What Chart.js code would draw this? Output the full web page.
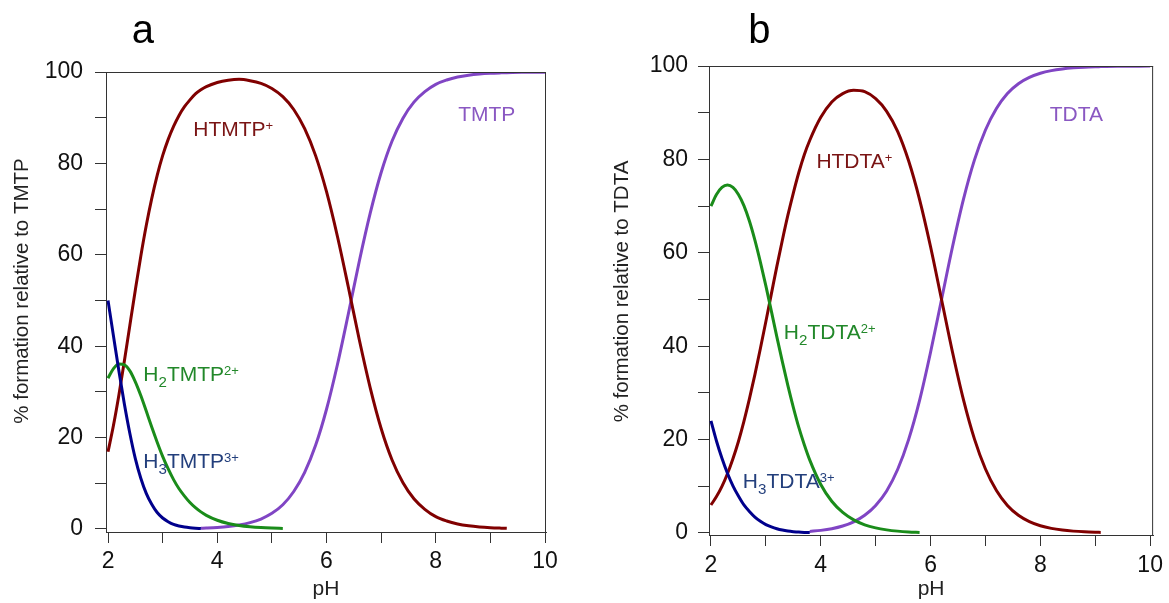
<!DOCTYPE html>
<html><head><meta charset="utf-8">
<script src="https://cdn.jsdelivr.net/npm/chart.js@4.4.1/dist/chart.umd.min.js"></script>
<style>
html,body{margin:0;padding:0;background:#fff;width:1169px;height:603px;overflow:hidden}
canvas{position:absolute;top:0}
#ca{left:0}
#cb{left:585px}
</style></head><body>
<canvas id="ca" width="585" height="603"></canvas>
<canvas id="cb" width="584" height="603"></canvas>
<script>
// ---------- Panel a data (pH vs % formation relative to TMTP) ----------
const pH_a = [2.0,2.1,2.2,2.3,2.4,2.5,2.6,2.7,2.8,2.9,3.0,3.1,3.2,3.3,3.4,3.5,3.6,3.7,3.8,
  4.0,4.2,4.4,4.6,4.8,5.0,5.2,5.4,5.6,5.8,6.0,6.2,6.4,6.6,6.8,7.0,7.2,7.4,7.6,7.8,8.0,
  8.2,8.4,8.6,8.8,9.0,9.2,9.3,9.4,9.6,9.8,10.0];
const H3TMTP = [50.0,42.2,34.5,27.3,20.9,15.4,11.1,7.8,5.4,3.6,2.4,1.6,1.0,0.67,0.43,0.28,0.18,0.11,null,
  null,null,null,null,null,null,null,null,null,null,null,null,null,null,null,null,null,null,null,null,null,
  null,null,null,null,null,null,null,null,null,null,null];
const H2TMTP = [33.0,35.1,36.1,35.9,34.6,32.2,29.2,25.8,22.3,19.0,15.9,13.2,10.8,8.8,7.2,5.8,4.66,3.74,2.99,
  1.91,1.21,0.76,0.48,0.30,0.19,0.12,null,null,null,null,null,null,null,null,null,null,null,null,null,null,
  null,null,null,null,null,null,null,null,null,null,null];
const HTMTP = [16.9,22.7,29.4,36.8,44.6,52.3,59.7,66.4,72.3,77.4,81.7,85.2,88.1,90.5,92.4,93.9,95.2,96.1,96.8,
  97.7,98.2,98.4,98.1,97.5,96.4,94.6,91.8,87.6,81.7,73.8,64.0,52.9,41.4,30.9,22.0,15.1,10.1,6.6,4.3,2.7,
  1.75,1.11,0.70,0.44,0.28,0.18,0.14,null,null,null,null];
const TMTP = [null,null,null,null,null,null,null,null,null,null,null,null,null,null,null,null,null,0.17,0.22,
  0.35,0.55,0.88,1.39,2.18,3.42,5.3,8.2,12.4,18.3,26.2,36.0,47.1,58.6,69.1,78.0,84.9,89.9,93.4,95.7,97.3,
  98.25,98.9,99.3,99.56,99.72,99.82,99.86,99.89,99.93,99.96,99.97];

// ---------- Panel b data (pH vs % formation relative to TDTA) ----------
const pH_b = [2.0,2.1,2.2,2.3,2.4,2.5,2.6,2.7,2.8,2.9,3.0,3.1,3.2,3.3,3.4,3.5,3.6,3.7,3.8,
  4.0,4.2,4.4,4.6,4.8,5.0,5.2,5.4,5.6,5.8,6.0,6.2,6.4,6.6,6.8,7.0,7.2,7.4,7.6,7.8,8.0,
  8.2,8.4,8.6,8.8,9.0,9.1,9.2,9.4,9.6,9.8,10.0];
const H3TDTA = [24.0,19.7,16.0,12.8,10.1,7.9,6.0,4.6,3.4,2.5,1.8,1.3,0.91,0.63,0.43,0.29,0.19,0.13,0.09,
  null,null,null,null,null,null,null,null,null,null,null,null,null,null,null,null,null,null,null,null,null,
  null,null,null,null,null,null,null,null,null,null,null];
const H2TDTA = [70.0,72.5,74.0,74.5,74.0,72.5,70.1,66.8,62.7,58.0,52.9,47.5,42.0,36.7,31.6,26.9,22.6,18.9,15.6,
  10.4,6.8,4.4,2.8,1.75,1.09,0.67,0.40,0.23,0.13,null,null,null,null,null,null,null,null,null,null,null,
  null,null,null,null,null,null,null,null,null,null,null];
const HTDTA = [6.0,7.8,10.0,12.7,15.9,19.6,23.9,28.7,33.9,39.5,45.3,51.2,57.1,62.7,68.0,72.8,77.2,81.0,84.1,
  89.0,92.3,94.1,94.8,94.5,93.0,90.3,86.0,79.7,71.4,61.3,50.0,38.7,28.5,20.1,13.7,9.1,5.9,3.8,2.45,1.56,
  0.99,0.63,0.40,0.25,0.16,0.13,null,null,null,null,null];
const TDTA = [null,null,null,null,null,null,null,null,null,null,null,null,null,null,null,null,null,null,0.33,
  0.56,0.92,1.5,2.4,3.8,5.9,9.0,13.6,20.0,28.4,38.7,50.0,61.3,71.5,79.9,86.3,90.9,94.1,96.2,97.55,98.44,
  99.01,99.37,99.6,99.75,99.84,99.87,99.9,99.94,99.96,99.97,99.98];

// ---------- ticks ----------
const xTickValues = [2,3,4,5,6,7,8,9,10];
const yTickValues = [0,10,20,30,40,50,60,70,80,90,100];

// ---------- styles ----------
const FONT = 'Arial, "Liberation Sans", Helvetica, sans-serif';
const C_RED = '#800000', C_GREEN = '#1a8c1a', C_BLUE = '#00008c', C_PURPLE = '#8045c4';
const L_RED = '#7a1414', L_GREEN = '#22882a', L_BLUE = '#233f7c', L_PURPLE = '#8a58c2';

const decoPlugin = {
  id: 'deco',
  afterDraw(chart, args, opts) {
    const {ctx, chartArea: ca, scales: {x, y}} = chart;
    ctx.save();
    ctx.strokeStyle = '#333'; ctx.lineWidth = 1;
    ctx.beginPath();
    ctx.moveTo(ca.left - 11, ca.top + 0.5); ctx.lineTo(ca.right, ca.top + 0.5);
    ctx.moveTo(ca.right - 0.5, ca.top); ctx.lineTo(ca.right - 0.5, ca.bottom);
    ctx.stroke();
    // y-axis title (rotated)
    ctx.save();
    ctx.translate(opts.yTitleX, (ca.top + ca.bottom) / 2 - opts.yTitleLift);
    ctx.rotate(-Math.PI / 2);
    ctx.font = opts.yTitleSize + 'px ' + FONT;
    ctx.fillStyle = '#222';
    ctx.textAlign = 'center'; ctx.textBaseline = 'middle';
    ctx.fillText(opts.yTitle, 0, 0);
    ctx.restore();
    // panel letter
    ctx.fillStyle = '#000';
    ctx.font = opts.letterSize + 'px ' + FONT;
    ctx.textAlign = 'center'; ctx.textBaseline = 'alphabetic';
    ctx.fillText(opts.letter, x.getPixelForValue(opts.letterX), ca.top - opts.letterRise);
    // species labels
    ctx.textAlign = 'left';
    const S = opts.size;
    opts.items.forEach(it => {
      let px = x.getPixelForValue(it.x);
      const py = y.getPixelForValue(it.y);
      it.parts.forEach(([t, k]) => {
        const s = k === 'n' ? S : (k === 'sub' ? S * 0.72 : S * 0.62);
        const dy = k === 'sub' ? S * 0.28 : (k === 'sup' ? -S * 0.3 : 0);
        ctx.font = s + 'px ' + FONT;
        ctx.fillStyle = it.color;
        ctx.fillText(t, px, py + dy);
        px += ctx.measureText(t).width;
      });
    });
    ctx.restore();
  }
};

function makeChart(id, cfg) {
  return new Chart(document.getElementById(id), {
    type: 'line',
    data: {
      datasets: cfg.series.map(s => ({
        label: s.name,
        data: cfg.ph.map((p, i) => ({x: p, y: s.values[i]})),
        borderColor: s.color, borderWidth: 3, pointRadius: 0, fill: false,
        cubicInterpolationMode: 'monotone', spanGaps: false
      }))
    },
    options: {
      responsive: false, animation: false, devicePixelRatio: 1,
      layout: {padding: {left: 0, right: cfg.padRight, top: cfg.padTop, bottom: 0}},
      plugins: {legend: {display: false}, tooltip: {enabled: false}, deco: cfg.deco},
      scales: {
        x: {
          type: 'linear', min: cfg.xmin, max: cfg.xmax,
          afterBuildTicks: sc => { sc.ticks = xTickValues.map(v => ({value: v})); },
          afterFit: sc => { sc.height = cfg.xHeight; },
          ticks: {autoSkip: false, maxRotation: 0, padding: cfg.xTickPad, color: '#111',
            font: {size: 23, family: FONT}, callback: v => (v % 2 === 0 ? String(v) : '')},
          grid: {drawOnChartArea: false, drawTicks: true, tickLength: 11, color: '#333', lineWidth: 1},
          border: {display: true, color: '#333', width: 1},
          title: {display: true, text: 'pH', color: '#222', font: {size: 21, family: FONT},
            padding: {top: 0, bottom: cfg.xTitlePad}}
        },
        y: {
          type: 'linear', min: cfg.ymin, max: 100,
          afterBuildTicks: sc => { sc.ticks = yTickValues.map(v => ({value: v})); },
          afterFit: sc => { sc.width = cfg.yWidth; },
          ticks: {autoSkip: false, padding: cfg.yTickPad, color: '#111',
            font: {size: 23, family: FONT}, callback: v => (v % 20 === 0 ? String(v) : '')},
          grid: {drawOnChartArea: false, drawTicks: true, tickLength: 11, color: '#333', lineWidth: 1},
          border: {display: true, color: '#333', width: 1},
          title: {display: false}
        }
      }
    },
    plugins: [decoPlugin]
  });
}

makeChart('ca', {
  ph: pH_a,
  series: [
    {name: 'H3TMTP3+', values: H3TMTP, color: C_BLUE},
    {name: 'H2TMTP2+', values: H2TMTP, color: C_GREEN},
    {name: 'HTMTP+', values: HTMTP, color: C_RED},
    {name: 'TMTP', values: TMTP, color: C_PURPLE}
  ],
  padRight: 39, padTop: 72, xHeight: 71, yWidth: 106,
  xmin: 1.963, xmax: 10.018, ymin: -0.66,
  xTickPad: 5, yTickPad: 12, xTitlePad: 1,
  deco: {
    yTitle: '% formation relative to TMTP', yTitleX: 22, yTitleLift: 11, yTitleSize: 20.5,
    letter: 'a', letterX: 2.64, letterRise: 29, letterSize: 40, size: 21,
    items: [
      {x: 3.56, y: 86.0, color: L_RED, parts: [['HTMTP', 'n'], ['+', 'sup']]},
      {x: 8.41, y: 89.3, color: L_PURPLE, parts: [['TMTP', 'n']]},
      {x: 2.646, y: 32.4, color: L_GREEN, parts: [['H', 'n'], ['2', 'sub'], ['TMTP', 'n'], ['2+', 'sup']]},
      {x: 2.646, y: 13.3, color: L_BLUE, parts: [['H', 'n'], ['3', 'sub'], ['TMTP', 'n'], ['3+', 'sup']]}
    ]
  }
});

makeChart('cb', {
  ph: pH_b,
  series: [
    {name: 'H3TDTA3+', values: H3TDTA, color: C_BLUE},
    {name: 'H2TDTA2+', values: H2TDTA, color: C_GREEN},
    {name: 'HTDTA+', values: HTDTA, color: C_RED},
    {name: 'TDTA', values: TDTA, color: C_PURPLE}
  ],
  padRight: 9, padTop: 66, xHeight: 68, yWidth: 124,
  xmin: 1.964, xmax: 10.054, ymin: -0.43,
  xTickPad: 6, yTickPad: 10, xTitlePad: 1,
  deco: {
    yTitle: '% formation relative to TDTA', yTitleX: 37, yTitleLift: 9, yTitleSize: 20.5,
    letter: 'b', letterX: 2.88, letterRise: 23, letterSize: 40, size: 21,
    items: [
      {x: 3.92, y: 78.2, color: L_RED, parts: [['HTDTA', 'n'], ['+', 'sup']]},
      {x: 8.17, y: 88.2, color: L_PURPLE, parts: [['TDTA', 'n']]},
      {x: 3.327, y: 41.5, color: L_GREEN, parts: [['H', 'n'], ['2', 'sub'], ['TDTA', 'n'], ['2+', 'sup']]},
      {x: 2.58, y: 9.57, color: L_BLUE, parts: [['H', 'n'], ['3', 'sub'], ['TDTA', 'n'], ['3+', 'sup']]}
    ]
  }
});
</script>
</body></html>
